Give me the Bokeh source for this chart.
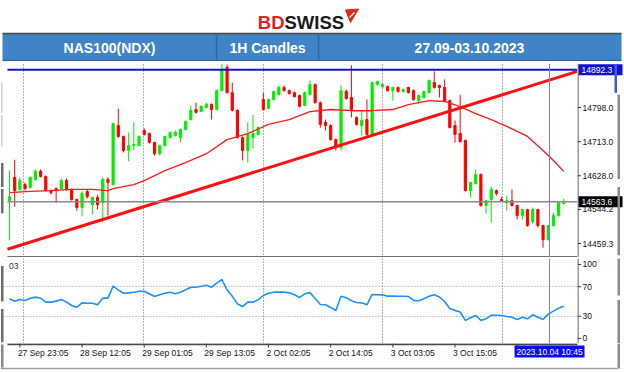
from bokeh.plotting import figure
from bokeh.models import Range1d, FixedTicker, Grid, Span, Label, ColumnDataSource
from bokeh.layouts import column, row
from bokeh.embed import file_html
from bokeh.resources import INLINE
from bokeh.core.properties import value

FONT = "Liberation Sans"

# ---------------- data ----------------
opens = [14566, 14624, 14594, 14606, 14599, 14619, 14639, 14626, 14591, 14596,
         14596, 14616, 14594, 14569, 14549, 14589, 14556, 14574, 14561, 14619,
         14606, 14753, 14726, 14691, 14703, 14703, 14741, 14733, 14711, 14683,
         14703, 14723, 14728, 14723, 14743, 14768, 14793, 14788, 14798, 14806,
         14793, 14840, 14898, 14835, 14791, 14723, 14691, 14723, 14731, 14818,
         14796, 14818, 14830, 14848, 14840, 14835, 14828, 14803, 14830, 14855,
         14810, 14761, 14753, 14718, 14698, 14838, 14823, 14773, 14753, 14768,
         14731, 14855, 14850, 14850, 14840, 14848, 14838, 14848, 14840, 14815,
         14823, 14835, 14860, 14853, 14848, 14815, 14753, 14733, 14716, 14591,
         14609, 14631, 14554, 14569, 14591, 14569, 14561, 14566, 14554, 14529,
         14544, 14514, 14544, 14504, 14469, 14504, 14529, 14559]
highs = [14641, 14668, 14624, 14611, 14626, 14644, 14644, 14629, 14594, 14599,
         14621, 14621, 14596, 14571, 14589, 14594, 14576, 14581, 14624, 14624,
         14760, 14795, 14728, 14736, 14761, 14728, 14746, 14736, 14713, 14706,
         14728, 14738, 14741, 14746, 14766, 14803, 14810, 14803, 14810, 14808,
         14843, 14906, 14905, 14860, 14793, 14726, 14761, 14780, 14751, 14835,
         14820, 14840, 14853, 14853, 14843, 14838, 14830, 14838, 14865, 14858,
         14813, 14768, 14756, 14721, 14853, 14843, 14903, 14776, 14791, 14818,
         14863, 14865, 14858, 14853, 14850, 14850, 14845, 14850, 14843, 14830,
         14840, 14868, 14888, 14855, 14868, 14818, 14766, 14830, 14718, 14613,
         14644, 14634, 14569, 14601, 14594, 14576, 14579, 14594, 14556, 14546,
         14546, 14549, 14546, 14506, 14506, 14536, 14564, 14571]
lows = [14467, 14551, 14589, 14591, 14596, 14616, 14624, 14589, 14581, 14561,
        14593, 14591, 14566, 14541, 14527, 14571, 14532, 14544, 14512, 14529,
        14604, 14723, 14686, 14664, 14691, 14701, 14728, 14708, 14678, 14678,
        14701, 14721, 14726, 14711, 14741, 14766, 14783, 14786, 14796, 14768,
        14791, 14838, 14833, 14788, 14721, 14666, 14661, 14696, 14728, 14791,
        14793, 14815, 14828, 14838, 14830, 14823, 14798, 14801, 14828, 14808,
        14748, 14741, 14716, 14691, 14691, 14818, 14773, 14753, 14728, 14728,
        14728, 14853, 14845, 14838, 14815, 14835, 14835, 14833, 14815, 14806,
        14820, 14833, 14845, 14823, 14813, 14746, 14711, 14711, 14589, 14574,
        14606, 14551, 14534, 14512, 14579, 14564, 14541, 14551, 14519, 14519,
        14501, 14509, 14499, 14449, 14467, 14501, 14526, 14556]
closes = [14576, 14591, 14616, 14596, 14624, 14639, 14626, 14591, 14586, 14591,
          14616, 14594, 14569, 14549, 14584, 14576, 14574, 14556, 14619, 14611,
          14758, 14726, 14691, 14703, 14706, 14726, 14731, 14711, 14683, 14703,
          14726, 14736, 14736, 14743, 14763, 14791, 14786, 14801, 14806, 14793,
          14840, 14893, 14835, 14791, 14723, 14691, 14731, 14733, 14748, 14793,
          14818, 14838, 14848, 14840, 14833, 14825, 14801, 14835, 14855, 14810,
          14756, 14753, 14718, 14698, 14840, 14820, 14793, 14756, 14766, 14731,
          14860, 14863, 14855, 14840, 14848, 14838, 14843, 14835, 14818, 14828,
          14838, 14865, 14848, 14848, 14815, 14748, 14731, 14713, 14591, 14611,
          14631, 14554, 14566, 14594, 14584, 14566, 14566, 14554, 14529, 14544,
          14504, 14544, 14504, 14469, 14504, 14529, 14561, 14563.6]

# moving average (read at a subset of bars)
ma_idx = [0, 4, 8, 12, 16, 19, 20, 24, 26, 30, 34, 38, 42, 46, 50, 54, 58, 62,
          66, 70, 74, 77, 81, 84, 87, 90, 93, 96, 100, 103, 105, 107]
ma_vals = [14586, 14589, 14591, 14594, 14594, 14591, 14596, 14606, 14616, 14641,
           14661, 14683, 14718, 14733, 14756, 14768, 14788, 14793, 14790, 14790,
           14793, 14805, 14815, 14813, 14800, 14783, 14768, 14751, 14726, 14691,
           14666, 14639]

rsi = [53.6, 50.4, 52.7, 51.4, 54.5, 55.9, 54.5, 49.1, 49.1, 50.5,
       52.7, 49.1, 44.6, 42.3, 48.2, 47.7, 47.7, 45.5, 54.5, 54.5,
       70.7, 65.8, 61.2, 61.7, 62.6, 63.9, 63.9, 60.4, 56.8, 59.0,
       61.2, 62.6, 60.4, 62.6, 65.8, 69.3, 69.3, 70.7, 72.0, 69.3,
       74.7, 79.7, 65.8, 57.2, 46.8, 43.2, 49.1, 49.1, 52.2, 58.1,
       61.2, 62.6, 62.6, 62.6, 61.7, 59.0, 55.5, 60.4, 62.0, 54.0,
       45.9, 45.5, 42.0, 37.8, 57.2, 55.0, 51.0, 48.6, 48.2, 45.5,
       59.5, 59.2, 59.0, 57.2, 57.2, 57.0, 57.0, 56.8, 51.5, 51.0,
       53.6, 57.0, 59.0, 56.0, 50.0, 40.5, 38.0, 35.8, 24.5, 28.0,
       31.1, 24.5, 26.6, 31.5, 31.5, 31.0, 29.7, 28.8, 25.7, 28.8,
       26.6, 32.0, 28.8, 25.7, 33.0, 37.0, 41.0, 43.6]

trend_idx = [-0.4, 109.6]
trend_px = [14445, 14888]
resistance = 14892.3
resistance_text = "14892.3"
last_price = 14563.6
last_text = "14563.6"
cursor_idx = 104.25
cursor_text = "2023.10.04 10:45"

time_tick_idx = [2, 14, 26, 38, 50, 62, 74, 86, 98]
time_tick_labels = ["27 Sep 23:05", "28 Sep 12:05", "29 Sep 01:05", "29 Sep 13:05",
                    "2 Oct 02:05", "2 Oct 14:05", "3 Oct 03:05", "3 Oct 15:05", ""]
grid_idx = [2.76, 25.93, 49.1, 72.07, 95.23]
price_ticks = [14459.3, 14544.2, 14628.0, 14713.0, 14798.0]
price_tick_labels = ["14459.3", "14544.2", "14628.0", "14713.0", "14798.0"]
rsi_ticks = [0, 30, 70, 100]
rsi_tick_labels = ["0", "30", "70", "100"]
rsi_levels = [30, 70]

header_titles = ["NAS100(NDX)", "1H Candles", "27.09-03.10.2023"]

# ---------------- geometry ----------------
W = 624
LEFT = 7          # px between page edge and first bar slot
AXW = 47          # px width of the price-axis strip
PW = W - AXW      # width of the plotting figures
X0, X1 = -0.39, 109.65
px_per_bar = (PW - LEFT) / (X1 - X0)
XS = X0 - LEFT / px_per_bar            # data x at page x = 0
xr = Range1d(XS, X1)
yr_price = Range1d(14424.5, 14907.6)
yr_rsi = Range1d(-6.76, 108.1)


def px2x(px):
    return XS + px / px_per_bar


AXIS_COL = "#3a3a3a"
LBL_COL = "#111111"
FRAME_GRAY = "#8c8c8c"


def bare(fig):
    fig.outline_line_color = None
    fig.background_fill_color = "white"
    fig.border_fill_color = "white"
    return fig


def mkfig(w, hgt, xrange, yrange, **kw):
    return bare(figure(width=w, height=hgt, x_range=xrange, y_range=yrange,
                       output_backend="svg", toolbar_location=None,
                       x_axis_type=None, y_axis_type=None, **kw))


# ---------------- header ----------------
h = mkfig(W, 61, Range1d(0, W), Range1d(61, 0), min_border=0)
h.text(x=[284], y=[22], text=["BD"], text_font=value(FONT), text_font_style="bold",
       text_font_size="18.5px", text_color="#e2231a", text_align="right",
       text_baseline="alphabetic")
h.text(x=[284], y=[22], text=["SWISS"], text_font=value(FONT), text_font_style="bold",
       text_font_size="18.5px", text_color="#1a1a1a", text_align="left",
       text_baseline="alphabetic")
h.patch(x=[345, 358, 350], y=[9.5, 8.5, 22], color="#e2231a")
h.line(x=[349, 354], y=[17, 12], color="white", line_width=1.2)
h.quad(left=2, right=621, top=33, bottom=60, fill_color="#3f84c6", line_color=None)
h.line(x=[2, 621], y=[33, 33], color="#4a4a4a", line_width=1.5)
h.line(x=[2, 621], y=[60, 60], color="#2b5f93", line_width=1.2)
h.segment(x0=[216, 318], y0=[33, 33], x1=[216, 318], y1=[60, 60],
          color="#2e68a4", line_width=1.5)
h.text(x=[109, 267, 469], y=[47, 47, 47], text=header_titles, text_font=value(FONT),
       text_font_style="bold", text_font_size="14px", text_color="white",
       text_align="center", text_baseline="middle")

# ---------------- price pane ----------------
p = mkfig(PW, 196, xr, yr_price, min_border=0, min_border_top=2,
          min_border_bottom=0)
p.add_layout(Grid(dimension=0, ticker=FixedTicker(ticks=grid_idx),
                  grid_line_color="#666666", grid_line_dash="1 2", grid_line_width=1))

n = len(opens)
idx = list(range(n))
col = ["#00ee00" if c >= o else "#ff0000" for o, c in zip(opens, closes)]
src = ColumnDataSource(dict(x=idx, h=highs, l=lows,
                            top=[max(o, c) for o, c in zip(opens, closes)],
                            bot=[min(o, c) for o, c in zip(opens, closes)],
                            col=col))
p.segment(x0="x", y0="h", x1="x", y1="l", line_color="col", line_width=1, source=src)
p.vbar(x="x", width=0.42, top="top", bottom="bot", fill_color="col",
       line_color="col", line_width=1, source=src)
p.line(ma_idx, ma_vals, line_color="#ff1a1a", line_width=1.3)
p.line(trend_idx, trend_px, line_color="#ff1010", line_width=3)
p.line([X0, X1], [resistance, resistance], line_color="#1414d2", line_width=2)
p.line([X0, X1], [last_price, last_price], line_color="#8a8a8a", line_width=1.5)
p.line([X0, X1], [yr_price.start, yr_price.start], line_color="#707070", line_width=3)
p.add_layout(Span(location=cursor_idx, dimension="height", line_color="#7777ff",
                  line_width=1))
# outer screenshot frame pieces at the far left
p.quad(left=px2x(0.5), right=px2x(3), bottom=[14600, 14535], top=[14660, 14595],
       fill_color="#6e6e6e", line_color=None)
p.quad(left=px2x(0.5), right=px2x(2), bottom=[14700, 14785], top=[14780, 14860],
       fill_color="#d0d0d0", line_color=None)

# price axis strip (shares the price scale)
pa = mkfig(AXW, 196, Range1d(0, AXW), yr_price, min_border=0, min_border_top=2,
           min_border_bottom=0)
pa.add_layout(Span(location=0.5, dimension="height", line_color=AXIS_COL, line_width=1))
pa.segment(x0=0, x1=3.5, y0=price_ticks, y1=price_ticks, line_color=AXIS_COL)
pa.text(x=5, y=price_ticks, text=price_tick_labels, text_font=value(FONT),
        text_font_size="8.5px", text_color=LBL_COL, text_align="left",
        text_baseline="middle")
pa.rect(x=1 + 22, y=[resistance], width=44, height=11, height_units="screen",
        fill_color="#1010d0", line_color=None)
pa.rect(x=1 + 22, y=[last_price], width=44, height=11, height_units="screen",
        fill_color="#000000", line_color=None)
pa.text(x=4, y=[resistance, last_price], text=[resistance_text, last_text],
        text_font=value(FONT), text_font_size="8.5px", text_color="white",
        text_align="left", text_baseline="middle")
pa.quad(left=40, right=42.5, bottom=[14430, 14620], top=[14600, 14830],
        fill_color=FRAME_GRAY, line_color=None)
pa.quad(left=37, right=39.5, bottom=[14835], top=[14905], fill_color="#3a5fd0",
        line_color=None)

# ---------------- RSI pane ----------------
r = mkfig(PW, 86, xr, yr_rsi, min_border=0, min_border_top=1, min_border_bottom=0)
r.add_layout(Grid(dimension=0, ticker=FixedTicker(ticks=grid_idx),
                  grid_line_color="#666666", grid_line_dash="1 2", grid_line_width=1))
r.add_layout(Grid(dimension=1, ticker=FixedTicker(ticks=rsi_levels),
                  grid_line_color="#9a9a9a", grid_line_dash="1 2", grid_line_width=1))
r.line(idx, rsi, line_color="#1e90ff", line_width=1.6)
r.add_layout(Span(location=cursor_idx, dimension="height", line_color="#7777ff",
                  line_width=1))
r.add_layout(Label(x=-0.1, y=102, text="03", text_font=FONT, text_font_size="8.5px",
                   text_color="#333333", text_baseline="top", text_align="left"))
r.quad(left=px2x(0.5), right=px2x(3), bottom=[50, -5], top=[98, 40],
       fill_color="#6e6e6e", line_color=None)

ra = mkfig(AXW, 86, Range1d(0, AXW), yr_rsi, min_border=0, min_border_top=1,
           min_border_bottom=0)
ra.add_layout(Span(location=0.5, dimension="height", line_color=AXIS_COL, line_width=1))
ra.segment(x0=0, x1=3.5, y0=rsi_ticks, y1=rsi_ticks, line_color=AXIS_COL)
ra.text(x=5, y=rsi_ticks, text=rsi_tick_labels, text_font=value(FONT),
        text_font_size="8.5px", text_color=LBL_COL, text_align="left",
        text_baseline="middle")
ra.quad(left=40, right=42.5, bottom=[-6, 58], top=[52, 108],
        fill_color=FRAME_GRAY, line_color=None)

# ---------------- time axis strip (shares the bar scale) ----------------
bx = Range1d(XS, X0 + (W - LEFT) / px_per_bar)
b = mkfig(W, 29, bx, Range1d(29, 0), min_border=0)
b.line(x=[X0, X1], y=[0.8, 0.8], line_color="#4a4a4a", line_width=2)
b.segment(x0=time_tick_idx, x1=time_tick_idx, y0=0, y1=4, line_color=AXIS_COL)
b.text(x=time_tick_idx, y=4, x_offset=-2, text=time_tick_labels, text_font=value(FONT),
       text_font_size="8.5px", text_color=LBL_COL, text_align="left",
       text_baseline="top")
b.rect(x=[cursor_idx], y=[8], width=70, height=12, width_units="screen",
       height_units="screen", fill_color="#0a0aff", line_color=None)
b.text(x=[cursor_idx], y=[8], text=[cursor_text], text_font=value(FONT),
       text_font_size="8.5px", text_color="white", text_align="center",
       text_baseline="middle")
b.line(x=[bx.start, px2x(617)], y=[25, 25], line_color="#a0a0a0", line_width=1.5)
b.quad(left=px2x(617), right=px2x(619.5), top=0, bottom=25, fill_color=FRAME_GRAY,
       line_color=None)
b.quad(left=px2x(0.5), right=px2x(3), top=1, bottom=24, fill_color="#8a8a8a",
       line_color=None)

layout = column(h, row(p, pa, spacing=0), row(r, ra, spacing=0), b, spacing=0)
open("out.html", "w").write(file_html(layout, INLINE))
